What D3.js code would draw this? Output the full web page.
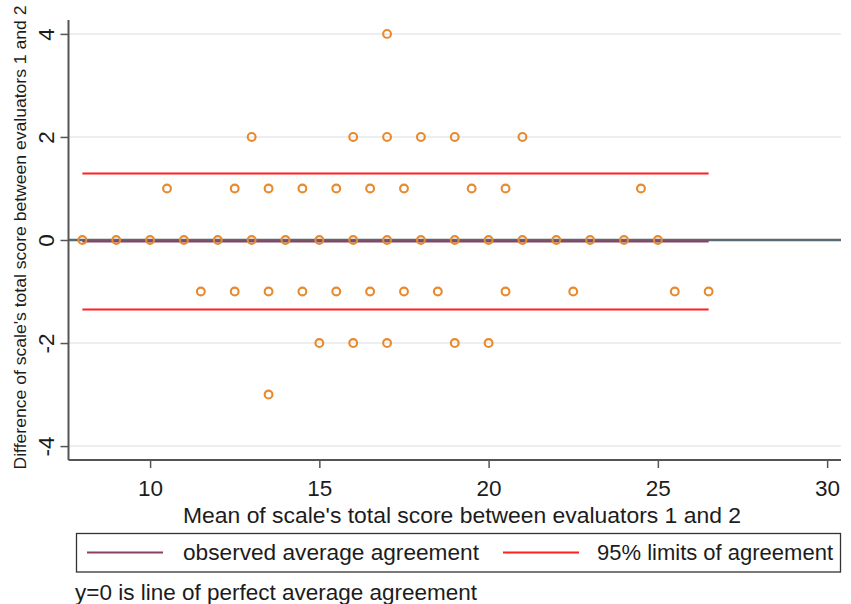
<!DOCTYPE html>
<html>
<head>
<meta charset="utf-8">
<script src="https://cdn.jsdelivr.net/npm/d3@7"></script>
<style>
html,body{margin:0;padding:0;background:#fff;}
svg{display:block;font-family:"Liberation Sans",Arial,sans-serif;}
</style>
</head>
<body>
<svg id="chart" width="851" height="604"></svg>
<script>
// ---- data ----
const meanScore = [
  17,
  13, 16, 17, 18, 19, 21,
  10.5, 12.5, 13.5, 14.5, 15.5, 16.5, 17.5, 19.5, 20.5, 24.5,
  8, 9, 10, 11, 12, 13, 14, 15, 16, 17, 18, 19, 20, 21, 22, 23, 24, 25,
  11.5, 12.5, 13.5, 14.5, 15.5, 16.5, 17.5, 18.5, 20.5, 22.5, 25.5, 26.5,
  15, 16, 17, 19, 20,
  13.5
];
const diffScore = [
  4,
  2, 2, 2, 2, 2, 2,
  1, 1, 1, 1, 1, 1, 1, 1, 1, 1,
  0, 0, 0, 0, 0, 0, 0, 0, 0, 0, 0, 0, 0, 0, 0, 0, 0, 0,
  -1, -1, -1, -1, -1, -1, -1, -1, -1, -1, -1, -1,
  -2, -2, -2, -2, -2,
  -3
];
const meanDiff = -0.03;
const upperLimit = 1.29;
const lowerLimit = -1.35;
const lineRange = [8, 26.5];
const xTicks = [10, 15, 20, 25, 30];
const yTicks = [-4, -2, 0, 2, 4];
const xTitle = "Mean of scale's total score between evaluators 1 and 2";
const yTitle = "Difference of scale's total score between evaluators 1 and 2";
const legendLabels = ["observed average agreement", "95% limits of agreement"];
const note = "y=0 is line of perfect average agreement";

// ---- layout ----
const svg = d3.select("#chart");
const pL = 68.5, pR = 841, pT = 20, pB = 460;
const x = d3.scaleLinear().domain([7.59, 30.41]).range([pL, pR]);
const y = d3.scaleLinear().domain([-4.27, 4.27]).range([pB, pT]);

const cOrange = "#e8892c", cRed = "#ff2020", cMean = "#8e3f63", cZero = "#5a6a74";
const txt = "#1c1c1c";
const fs = 22.5;

// gridlines
svg.append("g").selectAll("line").data(yTicks).join("line")
  .attr("x1", pL).attr("x2", pR)
  .attr("y1", d => y(d)).attr("y2", d => y(d))
  .attr("stroke", "#e6e8ec").attr("stroke-width", 1.5);

// zero line
svg.append("line")
  .attr("x1", pL).attr("x2", pR)
  .attr("y1", y(0)).attr("y2", y(0))
  .attr("stroke", cZero).attr("stroke-width", 2.5);

// mean line
svg.append("line")
  .attr("x1", x(lineRange[0])).attr("x2", x(lineRange[1]))
  .attr("y1", y(meanDiff)).attr("y2", y(meanDiff))
  .attr("stroke", cMean).attr("stroke-width", 2);

// limits
svg.append("g").selectAll("line").data([upperLimit, lowerLimit]).join("line")
  .attr("x1", x(lineRange[0])).attr("x2", x(lineRange[1]))
  .attr("y1", d => y(d)).attr("y2", d => y(d))
  .attr("stroke", cRed).attr("stroke-width", 2);

// points
svg.append("g").selectAll("circle").data(meanScore.map((m, i) => [m, diffScore[i]])).join("circle")
  .attr("cx", d => x(d[0])).attr("cy", d => y(d[1]))
  .attr("r", 3.9)
  .attr("fill", "none").attr("stroke", cOrange).attr("stroke-width", 2.1);

// axes
const axisColor = "#555";
const xAxis = svg.append("g").attr("transform", `translate(0,${pB})`)
  .call(d3.axisBottom(x).tickValues(xTicks).tickSize(8).tickFormat(d => String(d)));
xAxis.select(".domain").attr("stroke", axisColor).attr("stroke-width", 2)
  .attr("d", `M${pL},0H${pR}`);
xAxis.selectAll(".tick line").attr("stroke", axisColor).attr("stroke-width", 1.5);
xAxis.selectAll(".tick text").attr("fill", txt).attr("font-size", fs)
  .attr("font-family", "Liberation Sans, Arial, sans-serif").attr("dy", null).attr("y", 36);

const yAxis = svg.append("g").attr("transform", `translate(${pL},0)`)
  .call(d3.axisLeft(y).tickValues(yTicks).tickSize(8).tickFormat(d => String(d)));
yAxis.select(".domain").attr("stroke", axisColor).attr("stroke-width", 2)
  .attr("d", `M0,${pT}V${pB}`);
yAxis.selectAll(".tick line").attr("stroke", axisColor).attr("stroke-width", 1.5);
yAxis.selectAll(".tick text").attr("fill", txt).attr("font-size", fs)
  .attr("font-family", "Liberation Sans, Arial, sans-serif")
  .attr("x", null).attr("dy", null)
  .attr("text-anchor", "middle")
  .attr("transform", "translate(-15,0) rotate(-90)")
  .attr("y", 0);

// titles
svg.append("text").attr("x", 462).attr("y", 523).attr("text-anchor", "middle")
  .attr("font-size", fs).attr("fill", txt)
  .attr("textLength", 558).attr("lengthAdjust", "spacingAndGlyphs").text(xTitle);
svg.append("text").attr("transform", "translate(25.5,237.5) rotate(-90)")
  .attr("text-anchor", "middle").attr("font-size", 16.5).attr("fill", txt)
  .attr("textLength", 464).attr("lengthAdjust", "spacingAndGlyphs").text(yTitle);

// legend
const lg = svg.append("g");
lg.append("rect").attr("x", 76.5).attr("y", 533.5).attr("width", 764).attr("height", 38.5)
  .attr("fill", "#fff").attr("stroke", "#333").attr("stroke-width", 1.3);
const legendItems = [
  {label: legendLabels[0], color: cMean, x0: 87, tx: 183, w: 296},
  {label: legendLabels[1], color: cRed, x0: 503, tx: 597, w: 236}
];
legendItems.forEach(it => {
  lg.append("line").attr("x1", it.x0).attr("x2", it.x0 + 76).attr("y1", 552.5).attr("y2", 552.5)
    .attr("stroke", it.color).attr("stroke-width", 2);
  lg.append("text").attr("x", it.tx).attr("y", 560).attr("font-size", fs).attr("fill", txt)
    .attr("textLength", it.w).attr("lengthAdjust", "spacingAndGlyphs").text(it.label);
});

svg.append("text").attr("x", 75).attr("y", 600).attr("font-size", fs).attr("fill", txt)
  .attr("textLength", 402).attr("lengthAdjust", "spacingAndGlyphs").text(note);
</script>
</body>
</html>
